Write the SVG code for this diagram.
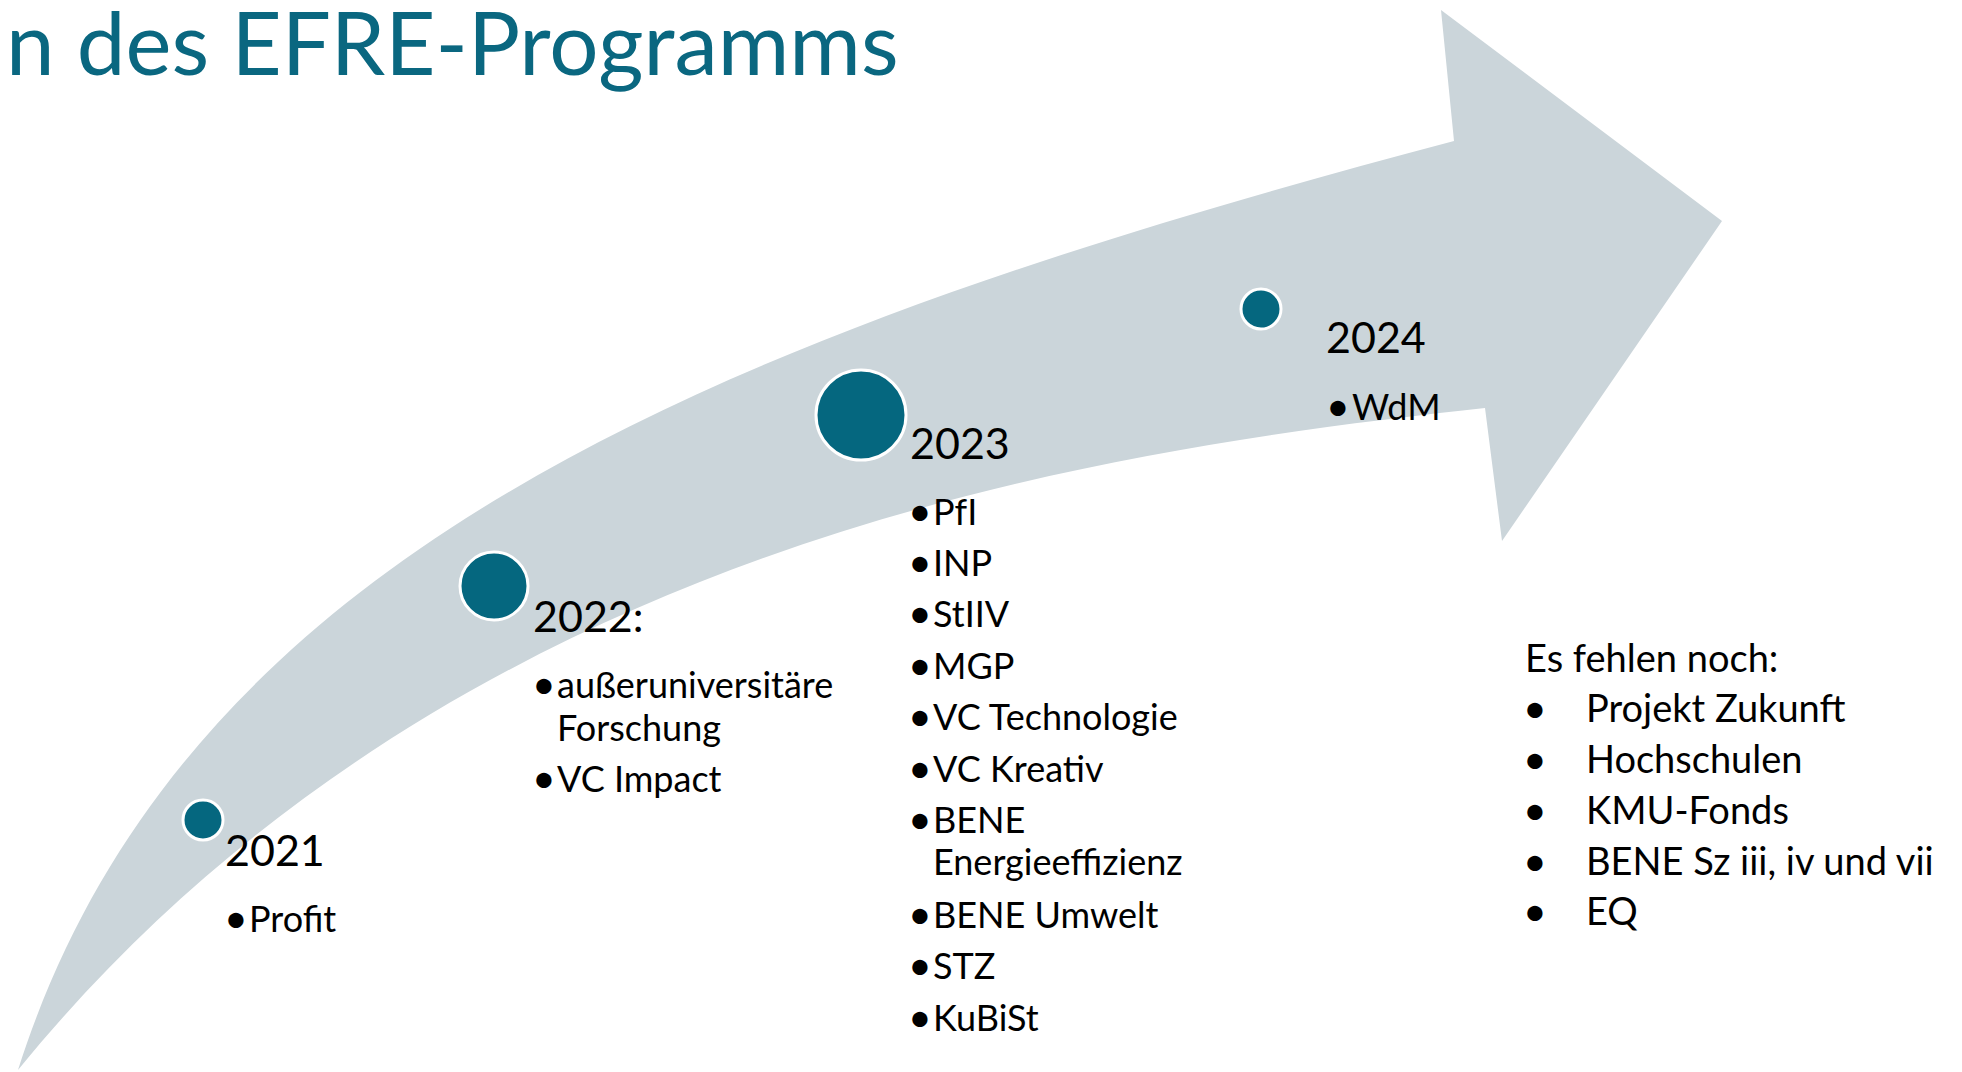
<svg xmlns="http://www.w3.org/2000/svg" width="1962" height="1072" viewBox="0 0 1962 1072">
<style>
  text { font-family: Lato, "Open Sans", sans-serif; fill: #000; }
  .title { fill: #0A6780; font-size: 87px; }
  .year { font-size: 43px; }
  .item { font-size: 36px; }
  .note { font-size: 38px; }
  .b { font-size: 41px; }
  .dot { fill: #05677F; stroke: #FFFFFF; stroke-width: 3; }
</style>
<rect width="1962" height="1072" fill="#FFFFFF"/>
<text class="title" x="6" y="75">n des EFRE-Programms</text>
<g id="connectors">
  <path id="arrow" fill="#CBD5DA" d="M 18,1070 C 180,560 700,340 1454,141 L 1441,10 L 1722,221 L 1502,541 L 1485,408 C 1100,450 450,540 18,1070 Z"/>
</g>
<g id="node-2021">
  <circle class="dot" cx="203" cy="820" r="20"/>
  <text class="year" x="225" y="866">2021</text>
  <text class="b" x="224" y="933">•</text>
  <text class="item" x="249" y="932">Profit</text>
</g>
<g id="node-2022">
  <circle class="dot" cx="494" cy="586" r="34"/>
  <text class="year" x="533" y="632">2022:</text>
  <text class="b" x="532" y="699">•</text>
  <text class="item" x="557" y="698">außeruniversitäre</text>
  <text class="item" x="557" y="741">Forschung</text>
  <text class="b" x="532" y="793">•</text>
  <text class="item" x="557" y="792">VC Impact</text>
</g>
<g id="node-2023">
  <circle class="dot" cx="861" cy="415" r="45"/>
  <text class="year" x="910" y="459">2023</text>
  <text class="b" x="908" y="526">•</text><text class="item" x="933" y="525">PfI</text>
  <text class="b" x="908" y="577">•</text><text class="item" x="933" y="576">INP</text>
  <text class="b" x="908" y="628">•</text><text class="item" x="933" y="627">StIIV</text>
  <text class="b" x="908" y="680">•</text><text class="item" x="933" y="679">MGP</text>
  <text class="b" x="908" y="731">•</text><text class="item" x="933" y="730">VC Technologie</text>
  <text class="b" x="908" y="783">•</text><text class="item" x="933" y="782">VC Kreativ</text>
  <text class="b" x="908" y="834">•</text><text class="item" x="933" y="833">BENE</text>
  <text class="item" x="933" y="875">Energieeffizienz</text>
  <text class="b" x="908" y="929">•</text><text class="item" x="933" y="928">BENE Umwelt</text>
  <text class="b" x="908" y="980">•</text><text class="item" x="933" y="979">STZ</text>
  <text class="b" x="908" y="1032">•</text><text class="item" x="933" y="1031">KuBiSt</text>
</g>
<g id="node-2024">
  <circle class="dot" cx="1261" cy="309" r="20"/>
  <text class="year" x="1326" y="353">2024</text>
  <text class="b" x="1326" y="421">•</text>
  <text class="item" x="1352" y="420">WdM</text>
</g>
<g id="note">
  <text class="note" x="1525" y="672">Es fehlen noch:</text>
  <text class="b" x="1523" y="723">•</text><text class="note" x="1586" y="722">Projekt Zukunft</text>
  <text class="b" x="1523" y="774">•</text><text class="note" x="1586" y="773">Hochschulen</text>
  <text class="b" x="1523" y="825">•</text><text class="note" x="1586" y="824">KMU-Fonds</text>
  <text class="b" x="1523" y="876">•</text><text class="note" x="1586" y="875">BENE Sz iii, iv und vii</text>
  <text class="b" x="1523" y="926">•</text><text class="note" x="1586" y="925">EQ</text>
</g>
</svg>
